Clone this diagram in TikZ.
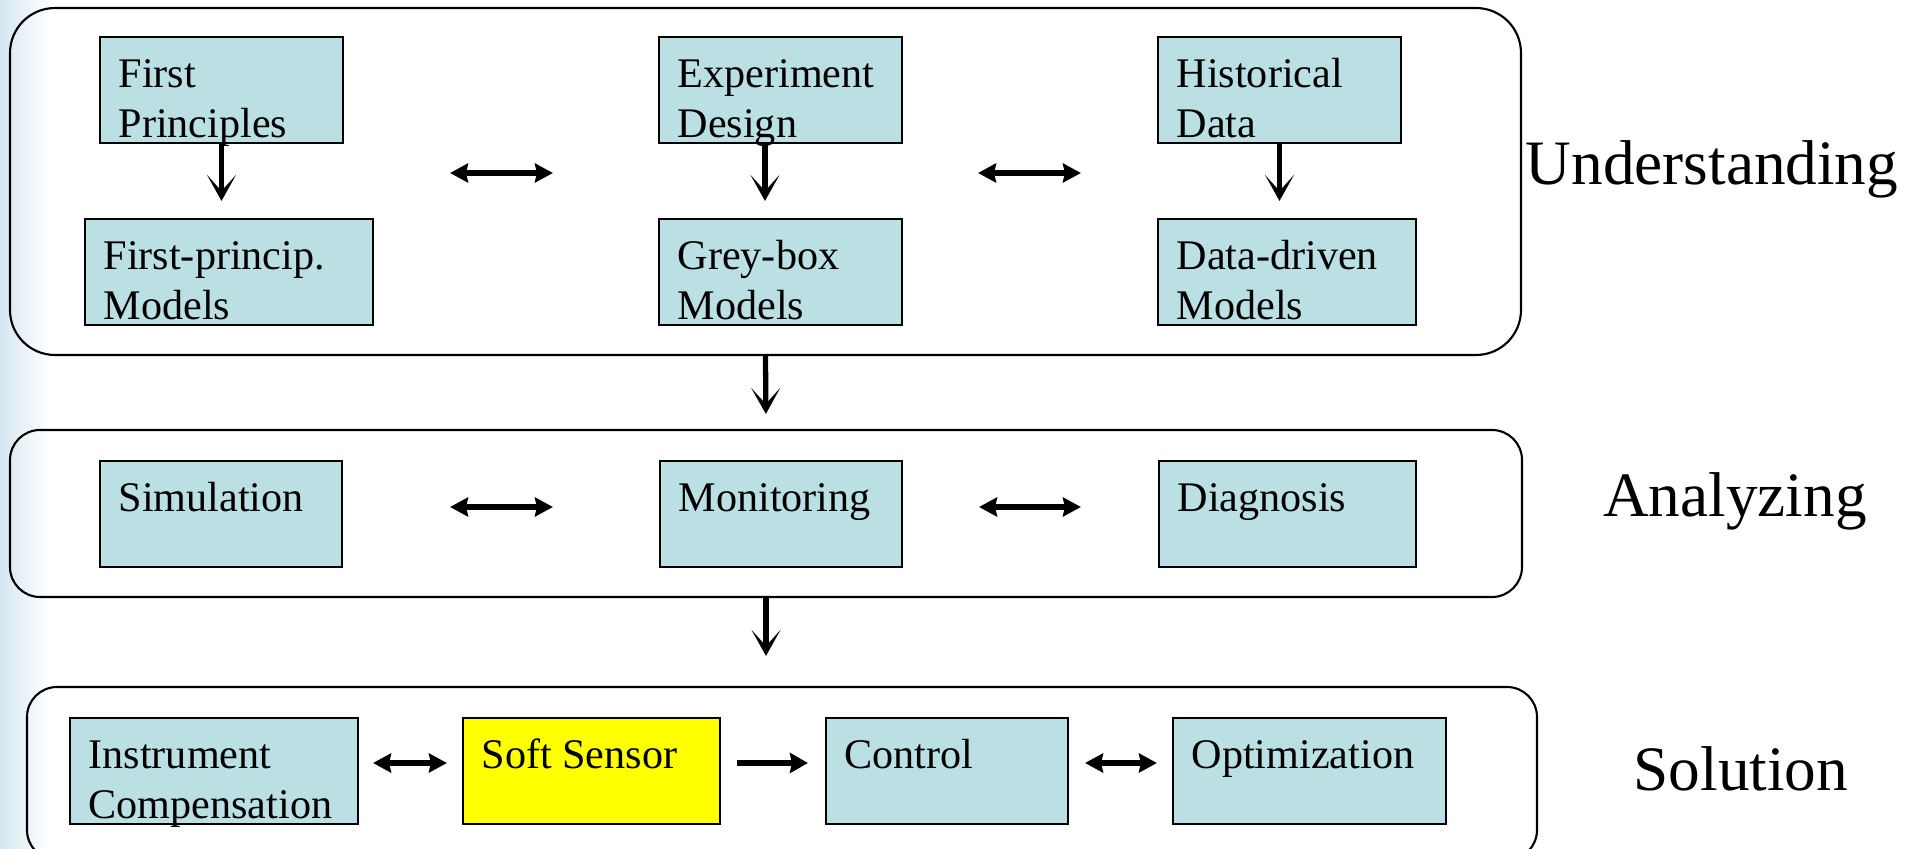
\documentclass[tikz,border=0pt]{standalone}
\usepackage{fontspec}
\setmainfont{Liberation Serif}
\usetikzlibrary{arrows.meta}

\definecolor{boxfill}{RGB}{187,224,227}
\definecolor{sensor}{RGB}{255,255,0}
\definecolor{slideblue}{RGB}{214,231,241}

\tikzset{
  frame/.style={draw, rounded corners=0.3cm, line width=0.6pt, inner sep=0pt},
  blk/.style={draw, fill=boxfill, line width=0.6pt, minimum height=1.06cm, inner sep=0pt},
  txt/.style={anchor=base west, inner sep=0pt, align=left, font=\fontsize{12}{14.4}\selectfont},
  stage/.style={anchor=base, inner sep=0pt, font=\fontsize{18}{21}\selectfont},
  arr/.style={-{Stealth[length=0.26cm, width=0.29cm, inset=0.16cm]}, line width=1.5pt},
  dbl/.style={{Stealth[length=0.18cm, width=0.19cm, inset=0.02cm]}-{Stealth[length=0.18cm, width=0.19cm, inset=0.02cm]}, line width=1.8pt},
  one/.style={-{Stealth[length=0.18cm, width=0.2cm, inset=0.02cm]}, line width=1.8pt},
}

\begin{document}
\begin{tikzpicture}

  \useasboundingbox (0,0) rectangle (19.21,8.48);
  \shade[left color=slideblue, right color=white] (0,0) rectangle (0.5,8.48);

  % the three stages
  \node[frame, minimum width=15.11cm, minimum height=3.47cm, rounded corners=0.45cm] (und) at (7.655,6.665) {};
  \node[frame, minimum width=15.12cm, minimum height=1.67cm] (ana) at (7.66,3.345) {};
  \node[frame, minimum width=15.10cm, minimum height=1.73cm] (sol) at (7.82,0.745) {};

  \node[stage] (undlbl) at (17.12,6.63) {Understanding};
  \node[stage] (analbl) at (17.35,3.31) {Analyzing};
  \node[stage] (sollbl) at (17.41,0.58) {Solution};

  % understanding
  \node[blk, minimum width=2.43cm] (fp)  at (2.215,7.58) {};
  \node[blk, minimum width=2.43cm] (ed)  at (7.805,7.58) {};
  \node[blk, minimum width=2.43cm] (hd)  at (12.795,7.58) {};
  \node[blk, minimum width=2.88cm] (fpm) at (2.29,5.76) {};
  \node[blk, minimum width=2.43cm] (gbm) at (7.805,5.76) {};
  \node[blk, minimum width=2.58cm] (ddm) at (12.87,5.76) {};

  % two-line labels sit on the baseline of their last line
  \node[txt] (fptxt)  at ([shift={(.19cm,-1.02cm)}]fp.north west)  {First\\Principles};
  \node[txt] (edtxt)  at ([shift={(.19cm,-1.02cm)}]ed.north west)  {Experiment\\Design};
  \node[txt] (hdtxt)  at ([shift={(.19cm,-1.02cm)}]hd.north west)  {Historical\\Data};
  \node[txt] (fpmtxt) at ([shift={(.19cm,-1.02cm)}]fpm.north west) {First-princip.\\Models};
  \node[txt] (gbmtxt) at ([shift={(.19cm,-1.02cm)}]gbm.north west) {Grey-box\\Models};
  \node[txt] (ddmtxt) at ([shift={(.19cm,-1.02cm)}]ddm.north west) {Data-driven\\Models};

  % analyzing
  \node[blk, minimum width=2.42cm] (sim) at (2.21,3.34) {};
  \node[blk, minimum width=2.42cm] (mon) at (7.81,3.34) {};
  \node[blk, minimum width=2.57cm] (dia) at (12.875,3.34) {};

  \node[txt] (simtxt) at ([shift={(.19cm,-.52cm)}]sim.north west) {Simulation};
  \node[txt] (montxt) at ([shift={(.19cm,-.52cm)}]mon.north west) {Monitoring};
  \node[txt] (diatxt) at ([shift={(.19cm,-.52cm)}]dia.north west) {Diagnosis};

  % solution
  \node[blk, minimum width=2.88cm] (ic)  at (2.14,0.77) {};
  \node[blk, minimum width=2.57cm, fill=sensor] (ss) at (5.915,0.77) {};
  \node[blk, minimum width=2.42cm] (ctl) at (9.47,0.77) {};
  \node[blk, minimum width=2.73cm] (opt) at (13.095,0.77) {};

  \node[txt] (ictxt)  at ([shift={(.19cm,-1.02cm)}]ic.north west)  {Instrument\\Compensation};
  \node[txt] (sstxt)  at ([shift={(.19cm,-.52cm)}]ss.north west)  {Soft Sensor};
  \node[txt] (ctltxt) at ([shift={(.19cm,-.52cm)}]ctl.north west) {Control};
  \node[txt] (opttxt) at ([shift={(.19cm,-.52cm)}]opt.north west) {Optimization};

  % arrow rows
  \coordinate (r1) at (0,6.75);
  \coordinate (r2) at (0,3.41);
  \coordinate (r3) at (0,0.85);

  \draw[arr, shorten >=0.17cm] (fp.south) -- (fp.south |- fpm.north);
  \draw[arr, shorten >=0.17cm] ([xshift=-.155cm]ed.south) -- ([xshift=-.155cm]ed.south |- gbm.north);
  \draw[arr, shorten >=0.17cm] (hd.south) -- (hd.south |- ddm.north);

  \draw[dbl, shorten <=1.06cm, shorten >=1.05cm] (fp.east |- r1) -- (ed.west |- r1);
  \draw[dbl, shorten <=0.75cm, shorten >=0.76cm] (ed.east |- r1) -- (hd.west |- r1);

  \draw[dbl, shorten <=1.07cm, shorten >=1.06cm] (sim.east |- r2) -- (mon.west |- r2);
  \draw[dbl, shorten <=0.76cm, shorten >=0.77cm] (mon.east |- r2) -- (dia.west |- r2);

  \draw[dbl, shorten <=0.14cm, shorten >=0.15cm] (ic.east |- r3) -- (ss.west |- r3);
  \draw[one, shorten <=0.16cm, shorten >=0.17cm] (ss.east |- r3) -- (ctl.west |- r3);
  \draw[dbl, shorten <=0.16cm, shorten >=0.15cm] (ctl.east |- r3) -- (opt.west |- r3);

  % between stages
  \draw[arr, shorten >=0.15cm] (und.south) -- (ana.north);
  \draw[arr, shorten >=0.30cm] (ana.south) -- (ana.south |- sol.north);

\end{tikzpicture}
\end{document}
